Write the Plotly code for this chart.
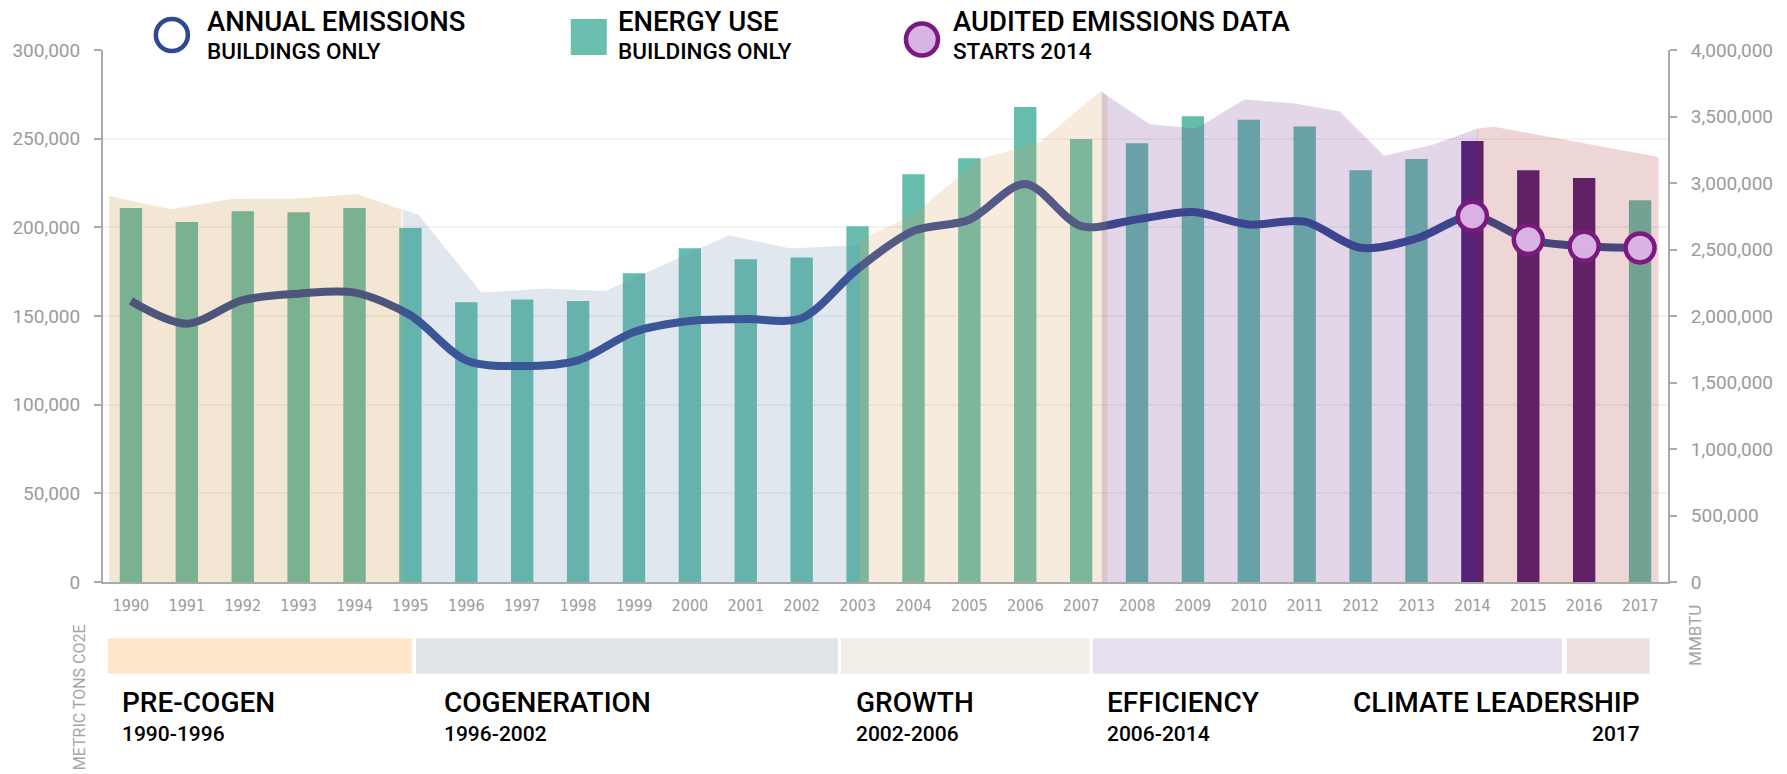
import plotly.graph_objects as go

# --- data -------------------------------------------------------------
years = list(range(1990, 2018))

# annual emissions, buildings only (metric tons CO2e, left axis)
emissions = [158500, 145700, 158900, 162600, 163200, 150400, 125000, 121800,
             125000, 141000, 147200, 148300, 148800, 176500, 198000, 204300,
             224500, 200700, 204500, 208600, 201600, 203200, 188500, 193700,
             206300, 193100, 189300, 188400]

# energy use, buildings only (MMBTU, right axis)
energy = [2812000, 2707000, 2788000, 2780000, 2812000, 2662000, 2103000, 2125000,
          2112000, 2321000, 2510000, 2427000, 2439000, 2675000, 3065000, 3186000,
          3572000, 3331000, 3299000, 3501000, 3476000, 3424000, 3096000, 3180000,
          3315000, 3096000, 3037000, 2871000]

audited_years = [2014, 2015, 2016, 2017]
audited_emissions = [206300, 193100, 189300, 188400]
audited_bar_years = [2014, 2015, 2016]

# background period envelopes (MMBTU scale)
precogen_x = [1989.61, 1990.71, 1991.81, 1992.97, 1994.04, 1994.84]
precogen_y = [2902000, 2803000, 2880000, 2883000, 2918000, 2800000]
cogen_x = [1994.86, 1995.14, 1996.27, 1997.40, 1998.49, 2000.70, 2001.80, 2002.93, 2003.04]
cogen_y = [2800000, 2763000, 2176000, 2206000, 2188000, 2607000, 2507000, 2532000, 2547000]
growth_x = [2003.04, 2003.97, 2005.22, 2006.26, 2007.35, 2007.47]
growth_y = [2570000, 2758000, 3184000, 3309000, 3692000, 3655000]
efficiency_x = [2007.37, 2008.23, 2009.06, 2009.92, 2010.82, 2011.62, 2012.42, 2013.26, 2014.10]
efficiency_y = [3685000, 3442000, 3410000, 3628000, 3598000, 3540000, 3204000, 3284000, 3410000]
climate_x = [2014.09, 2014.39, 2017.33]
climate_y = [3410000, 3422000, 3196000]

# timeline periods
period_names = ["PRE-COGEN", "COGENERATION", "GROWTH", "EFFICIENCY", "CLIMATE LEADERSHIP"]
period_ranges = ["1990-1996", "1996-2002", "2002-2006", "2006-2014", "2017"]
band_start = [1989.59, 1995.10, 2002.70, 2007.21, 2015.69]
band_end = [1995.03, 2002.65, 2007.15, 2015.60, 2017.17]

# --- styling ----------------------------------------------------------
LINE_COLOR = "#314A92"
BAR_COLOR = "#67BDAD"
AUDIT_BAR = "#4F1E72"
AUDIT_FILL = "#D8B2E3"
AUDIT_EDGE = "#7B1A7E"
GREY = "#9B9B9B"
AXIS_GREY = "#AAAAAA"
LABEL_FONT = "Roboto"
NARROW_FONT = "Liberation Sans Narrow, DejaVu Sans Condensed, Roboto"

area_colors = ["rgba(195,130,35,0.2)", "rgba(100,135,175,0.2)", "rgba(215,155,85,0.2)",
               "rgba(110,50,140,0.2)", "rgba(165,50,45,0.2)"]
band_colors = ["#FDE7C8", "#E1E5E9", "#F2EEE7", "#E6E0EE", "#EEDFDF"]

bar_colors = [AUDIT_BAR if y in audited_bar_years else BAR_COLOR for y in years]

fig = go.Figure()

# bars (MMBTU) - drawn first
fig.add_trace(go.Bar(x=years, y=energy, width=0.4, marker_color=bar_colors,
                     marker_line_width=0, yaxis="y", showlegend=False))

# emissions line (metric tons)
fig.add_trace(go.Scatter(x=years, y=emissions, mode="lines", yaxis="y2",
                         line=dict(color=LINE_COLOR, width=8, shape="spline", smoothing=0.9),
                         showlegend=False))

# period envelopes on top with transparency
areas = [(precogen_x, precogen_y), (cogen_x, cogen_y), (growth_x, growth_y),
         (efficiency_x, efficiency_y), (climate_x, climate_y)]
for (ax, ay), col in zip(areas, area_colors):
    fig.add_trace(go.Scatter(x=ax, y=ay, mode="lines", fill="tozeroy", fillcolor=col,
                             line=dict(width=0), yaxis="y3", showlegend=False,
                             hoverinfo="skip"))

# audited emission points
fig.add_trace(go.Scatter(x=audited_years, y=audited_emissions, mode="markers", yaxis="y4",
                         marker=dict(size=29, color=AUDIT_FILL,
                                     line=dict(color=AUDIT_EDGE, width=4.5)),
                         showlegend=False))

fig.update_layout(
    width=1787, height=774,
    margin=dict(l=99, r=119, t=50, b=192, pad=0),
    paper_bgcolor="white", plot_bgcolor="white",
    xaxis=dict(range=[1989.5, 2017.5], tickvals=years, ticktext=[str(y) for y in years],
               showline=True, linecolor=AXIS_GREY, linewidth=2, ticks="",
               showgrid=False, zeroline=False, ticklabelstandoff=8,
               tickfont=dict(family=NARROW_FONT, size=16, color=GREY)),
    yaxis=dict(side="right", range=[0, 4000000], tickvals=list(range(0, 4000001, 500000)),
               tickformat=",", showline=True, linecolor=AXIS_GREY, linewidth=2,
               ticks="outside", ticklen=7, tickwidth=2, tickcolor=AXIS_GREY,
               showgrid=False, zeroline=False, ticklabelstandoff=10,
               tickfont=dict(family=LABEL_FONT, size=19, color=GREY)),
    yaxis2=dict(overlaying="y", side="left", range=[0, 300000],
                tickvals=list(range(0, 300001, 50000)), tickformat=",",
                showline=True, linecolor=AXIS_GREY, linewidth=2,
                ticks="outside", ticklen=7, tickwidth=2, tickcolor=AXIS_GREY,
                showgrid=True, gridcolor="#F3F3F3", gridwidth=2, zeroline=False,
                ticklabelstandoff=10,
                tickfont=dict(family=LABEL_FONT, size=19, color=GREY)),
    yaxis3=dict(overlaying="y", range=[0, 4000000], visible=False),
    yaxis4=dict(overlaying="y", range=[0, 300000], visible=False),
    bargap=0.6,
)

# timeline bands under the chart
for x0, x1, col in zip(band_start, band_end, band_colors):
    fig.add_shape(type="rect", xref="x", yref="paper", x0=x0, x1=x1,
                  y0=-0.1724, y1=-0.1058, fillcolor=col, line_width=0, layer="below")

# period labels
name_pos = [(1989.81, "left"), (1995.57, "left"), (2002.93, "left"),
            (2007.42, "left"), (2017.03, "right")]
for name, rng, (px, anchor) in zip(period_names, period_ranges, name_pos):
    fig.add_annotation(x=px, y=-0.227, xref="x", yref="paper", text=name,
                       showarrow=False, xanchor=anchor, yanchor="middle",
                       font=dict(family=LABEL_FONT, size=28, color="black", weight=500))
    fig.add_annotation(x=px, y=-0.286, xref="x", yref="paper", text=rng,
                       showarrow=False, xanchor=anchor, yanchor="middle",
                       font=dict(family=LABEL_FONT, size=21, color="black", weight=500))

# axis titles
fig.add_annotation(x=-0.0145, y=-0.075, xref="paper", yref="paper", text="METRIC TONS CO2E",
                   textangle=-90, showarrow=False, xanchor="center", yanchor="top",
                   font=dict(family=LABEL_FONT, size=16, color="#A5A5A5"))
fig.add_annotation(x=1.0172, y=-0.0996, xref="paper", yref="paper", text="MMBTU",
                   textangle=-90, showarrow=False, xanchor="center", yanchor="middle",
                   font=dict(family=LABEL_FONT, size=17, color="#A5A5A5"))

# custom legend across the top
fig.add_shape(type="circle", xref="paper", yref="paper", xsizemode="pixel", ysizemode="pixel",
              xanchor=0.0440, yanchor=1.0282, x0=-16, x1=16, y0=-16, y1=16,
              fillcolor="white", line=dict(color="#2E4891", width=4.5))
fig.add_shape(type="rect", xref="paper", yref="paper", xsizemode="pixel", ysizemode="pixel",
              xanchor=0.3104, yanchor=1.0244, x0=-18, x1=18, y0=-18, y1=18,
              fillcolor="#6BBFB0", line_width=0)
fig.add_shape(type="circle", xref="paper", yref="paper", xsizemode="pixel", ysizemode="pixel",
              xanchor=0.5233, yanchor=1.0197, x0=-16, x1=16, y0=-16, y1=16,
              fillcolor="#D8B4E4", line=dict(color=AUDIT_EDGE, width=4.5))

legend_items = [(0.0650, "ANNUAL EMISSIONS", "BUILDINGS ONLY"),
                (0.3276, "ENERGY USE", "BUILDINGS ONLY"),
                (0.5421, "AUDITED EMISSIONS DATA", "STARTS 2014")]
for lx, title, sub in legend_items:
    fig.add_annotation(x=lx, y=1.0545, xref="paper", yref="paper", text=title,
                       showarrow=False, xanchor="left", yanchor="middle",
                       font=dict(family=LABEL_FONT, size=27.5, color="black", weight=500))
    fig.add_annotation(x=lx, y=0.998, xref="paper", yref="paper", text=sub,
                       showarrow=False, xanchor="left", yanchor="middle",
                       font=dict(family=LABEL_FONT, size=22.5, color="black", weight=500))

fig.write_html("out.html", config={"displayModeBar": False},
               post_script="document.body.style.margin='0px';")
